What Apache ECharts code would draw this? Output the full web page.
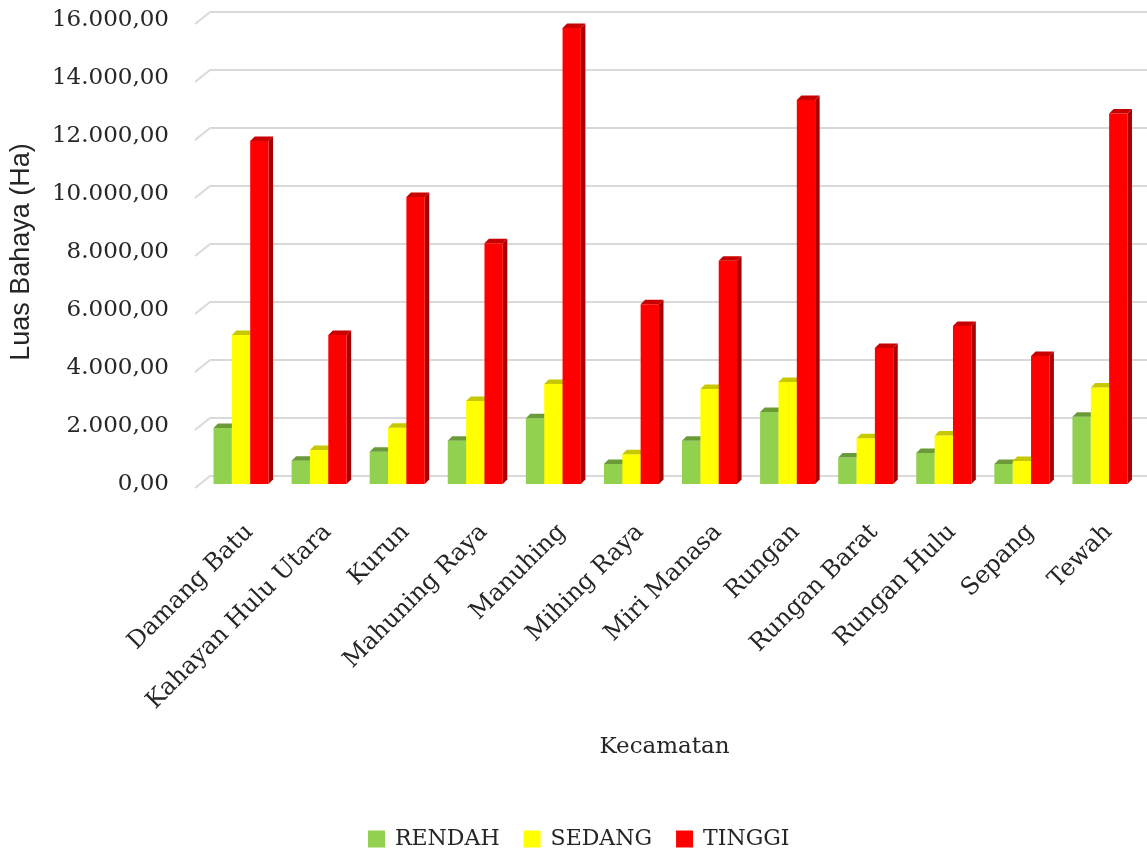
<!DOCTYPE html>
<html>
<head>
<meta charset="utf-8">
<script src="https://cdn.jsdelivr.net/npm/echarts@6/dist/echarts.min.js"></script>
<style>html,body{margin:0;padding:0;background:#fff;}#c{width:1147px;height:851px;}</style>
</head>
<body>
<div id="c"></div>
<script>
var categories = ['Damang Batu','Kahayan Hulu Utara','Kurun','Mahuning Raya','Manuhing','Mihing Raya','Miri Manasa','Rungan','Rungan Barat','Rungan Hulu','Sepang','Tewah'];
var rendah = [1930, 800, 1110, 1490, 2270, 690, 1490, 2480, 910, 1070, 690, 2320];
var sedang = [5140, 1170, 1940, 2860, 3450, 1030, 3280, 3520, 1580, 1670, 790, 3330];
var tinggi = [11830, 5140, 9900, 8300, 15720, 6200, 7700, 13240, 4690, 5450, 4410, 12780];
var yTicks = [0, 2000, 4000, 6000, 8000, 10000, 12000, 14000, 16000];

var chart = echarts.init(document.getElementById('c'));
var serif = 'DejaVu Serif';
var txt = '#262626';

function fmt(v){
  var s = Math.round(v).toString().replace(/\B(?=(\d{3})+(?!\d))/g, '.');
  return s + ',00';
}

function makeRender(s, front, topc, side){
  return function(params, api){
    var idx = api.value(0), v = api.value(1);
    var top = api.coord([idx, v]);
    var base = api.coord([idx, 0]);
    var bw = api.size([1, 0])[0];
    var w = bw * 0.235;
    var x0 = top[0] - 1.5 * w + s * w;
    var yt = top[1], yb = base[1];
    var dx = 4.5, dy = 4.5;
    return {type: 'group', children: [
      {type: 'polygon', shape: {points: [[x0 + w, yb], [x0 + w, yt], [x0 + w + dx, yt - dy], [x0 + w + dx, yb - dy]]}, style: {fill: side}},
      {type: 'rect', shape: {x: x0, y: yt, width: w, height: yb - yt}, style: {fill: front}},
      {type: 'polygon', shape: {points: [[x0, yt], [x0 + w, yt], [x0 + w + dx, yt - dy], [x0 + dx, yt - dy]]}, style: {fill: topc}}
    ]};
  };
}

function pairs(arr){ return arr.map(function(v, i){ return [i, v]; }); }

var option = {
  backgroundColor: '#fff',
  animation: false,
  grid: [
    {left: 201, right: 8, top: 20, bottom: 367},
    {left: 210, right: 0, top: 12, bottom: 375}
  ],
  xAxis: [
    {type: 'category', gridIndex: 0, data: categories,
     axisLine: {show: false}, axisTick: {show: false},
     axisLabel: {rotate: 45, interval: 0, margin: 36, verticalAlign: 'top', color: txt, fontFamily: serif, fontSize: 24},
     name: 'Kecamatan', nameLocation: 'middle', nameGap: 252,
     nameTextStyle: {color: txt, fontFamily: serif, fontSize: 23, padding: [0, 12, 0, 0]}},
    {type: 'value', gridIndex: 1, min: 0, max: 1, show: false}
  ],
  yAxis: [
    {type: 'value', gridIndex: 0, min: 0, max: 16000, interval: 2000,
     axisLine: {show: false}, axisTick: {show: false}, splitLine: {show: false},
     axisLabel: {margin: 33, color: txt, fontFamily: serif, fontSize: 23, padding: [9, 0, 0, 0], formatter: fmt},
     name: 'Luas Bahaya (Ha)', nameLocation: 'middle', nameGap: 167, nameRotate: 90,
     nameTextStyle: {color: txt, fontFamily: 'Liberation Sans', fontSize: 27}},
    {type: 'value', gridIndex: 1, min: 0, max: 16000, interval: 2000,
     axisLine: {show: false}, axisTick: {show: false}, axisLabel: {show: false},
     splitLine: {show: true, lineStyle: {color: '#d9d9d9', width: 2}}}
  ],
  legend: {
    left: 368, top: 828, padding: 0, itemWidth: 17, itemHeight: 17, itemGap: 24, icon: 'rect',
    data: ['RENDAH', 'SEDANG', 'TINGGI'],
    textStyle: {color: txt, fontFamily: serif, fontSize: 22, padding: [0, 0, 0, 5]}
  },
  series: [
    {type: 'custom', name: 'ticks', xAxisIndex: 1, yAxisIndex: 1, silent: true,
     data: yTicks.map(function(v){ return [0, v]; }),
     renderItem: function(params, api){
       var p = api.coord([0, api.value(1)]);
       return {type: 'line', shape: {x1: p[0] - 15, y1: p[1] + 12, x2: p[0], y2: p[1]},
               style: {stroke: '#d9d9d9', lineWidth: 2}};
     }},
    {type: 'custom', name: 'RENDAH', xAxisIndex: 0, yAxisIndex: 0, itemStyle: {color: '#92D050'},
     encode: {x: 0, y: 1}, data: pairs(rendah), renderItem: makeRender(0, '#92D050', '#6a9b38', '#6a9b38')},
    {type: 'custom', name: 'SEDANG', xAxisIndex: 0, yAxisIndex: 0, itemStyle: {color: '#FFFF00'},
     encode: {x: 0, y: 1}, data: pairs(sedang), renderItem: makeRender(1, '#FFFF00', '#c8c800', '#c8c800')},
    {type: 'custom', name: 'TINGGI', xAxisIndex: 0, yAxisIndex: 0, itemStyle: {color: '#FF0000'},
     encode: {x: 0, y: 1}, data: pairs(tinggi), renderItem: makeRender(2, '#FF0000', '#c80000', '#a80000')}
  ]
};
chart.setOption(option);
</script>
</body>
</html>
